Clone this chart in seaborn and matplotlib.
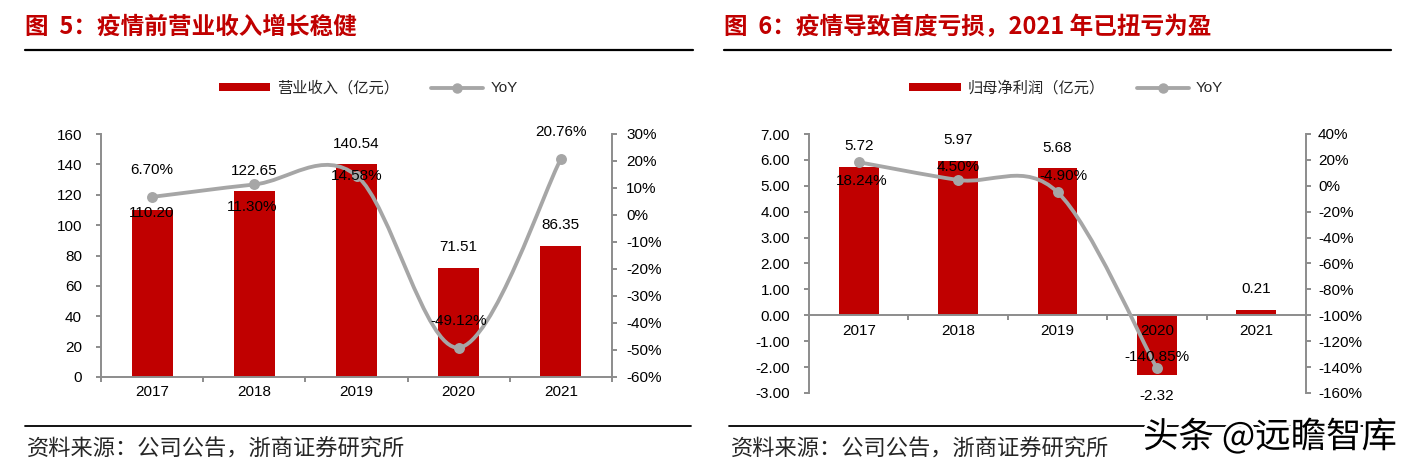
import numpy as np
import matplotlib
matplotlib.use("Agg")
import matplotlib.pyplot as plt
import seaborn as sns
from matplotlib.path import Path
from matplotlib.patches import PathPatch, Patch
from matplotlib.lines import Line2D
from matplotlib.ticker import MultipleLocator, FixedLocator, FuncFormatter
import matplotlib.patheffects as pe

# ---------------- data ----------------
years = ["2017", "2018", "2019", "2020", "2021"]
revenue = [110.20, 122.65, 140.54, 71.51, 86.35]
revenue_yoy = [6.70, 11.30, 14.58, -49.12, 20.76]
profit = [5.72, 5.97, 5.68, -2.32, 0.21]
profit_yoy = [18.24, 4.50, -4.90, -140.85, np.nan]

title_left = "图  5：疫情前营业收入增长稳健"
title_right = "图  6：疫情导致首度亏损，2021 年已扭亏为盈"
legend_left = "营业收入（亿元）"
legend_right = "归母净利润（亿元）"
legend_yoy = "YoY"
source_text = "资料来源：公司公告，浙商证券研究所"
watermark = "头条 @远瞻智库"

# ---------------- style ----------------
sns.set_style("white")
plt.rcParams["font.family"] = ["Liberation Sans", "Noto Sans CJK SC", "DejaVu Sans"]
plt.rcParams["axes.unicode_minus"] = False

RED = "#C00000"
GRAY = "#A6A6A6"
AXC = "#8C8C8C"
CJK = ["Noto Sans CJK SC", "DejaVu Sans"]
W, H = 1414, 472
PX = 72 / 100.0  # points per pixel

fig = plt.figure(figsize=(W / 100, H / 100), dpi=100)


def fx(px):
    return px / W


def fy(py):
    return 1 - py / H


def smooth_path(xs, ys):
    P = np.column_stack([xs, ys]).astype(float)
    n = len(P)
    T = np.zeros_like(P)
    for i in range(n):
        a = P[max(i - 1, 0)]
        b = P[min(i + 1, n - 1)]
        T[i] = (b - a) / 2.0
    verts = [P[0]]
    codes = [Path.MOVETO]
    for i in range(n - 1):
        verts += [P[i] + T[i] / 3.0, P[i + 1] - T[i + 1] / 3.0, P[i + 1]]
        codes += [Path.CURVE4] * 3
    return Path(verts, codes)


def make_panel(box, vals, yoy, ylim, ystep, yfmt, y2lim, y2step, zero_spine,
               lpad, rpad):
    l, t, r, b = box
    ax = fig.add_axes([fx(l), fy(b), (r - l) / W, (b - t) / H])
    pos = np.arange(len(years))
    sns.barplot(x=pos, y=vals, native_scale=True, color=RED, saturation=1,
                width=0.4, linewidth=0, ax=ax)
    ax2 = ax.twinx()
    yoy = np.asarray(yoy, dtype=float)
    ok = ~np.isnan(yoy)
    ax2.add_patch(PathPatch(smooth_path(pos[ok], yoy[ok]), fill=False,
                            edgecolor=GRAY, lw=2.75, capstyle="round",
                            joinstyle="round", zorder=2))
    sns.scatterplot(x=pos[ok], y=yoy[ok], color=GRAY, s=62, linewidth=0,
                    ax=ax2, legend=False, zorder=3)

    ax.set_xlim(-0.5, len(years) - 0.5)
    ax2.set_xlim(-0.5, len(years) - 0.5)
    ax.set_ylim(*ylim)
    ax2.set_ylim(*y2lim)
    ax.set_xlabel("")
    ax.set_ylabel("")
    ax2.set_xlabel("")
    ax2.set_ylabel("")
    ax.set_axisbelow(False)

    for s in ["top", "right"]:
        ax.spines[s].set_visible(False)
    for s in ["top", "left", "bottom"]:
        ax2.spines[s].set_visible(False)
    for s in ["left", "bottom"]:
        ax.spines[s].set_color(AXC)
        ax.spines[s].set_linewidth(1.4)
    ax2.spines["right"].set_color(AXC)
    ax2.spines["right"].set_linewidth(1.4)
    if zero_spine:
        ax.spines["bottom"].set_position(("data", 0))

    ax.yaxis.set_major_locator(MultipleLocator(ystep))
    ax.yaxis.set_major_formatter(FuncFormatter(lambda v, _: yfmt.format(v)))
    ax2.yaxis.set_major_locator(MultipleLocator(y2step))
    ax2.yaxis.set_major_formatter(FuncFormatter(lambda v, _: f"{v:.0f}%"))
    ax.tick_params(axis="y", which="major", left=True, direction="out",
                   length=3.6, width=1.4, color=AXC, pad=lpad, labelsize=11,
                   labelcolor="black")
    ax2.tick_params(axis="y", which="major", right=True, left=False,
                    direction="out", length=3.6, width=1.4, color=AXC,
                    pad=rpad, labelsize=11, labelcolor="black")
    ax.set_xticks(pos)
    ax.set_xticklabels(years)
    ax.xaxis.set_minor_locator(FixedLocator(np.arange(-0.5, len(years), 1.0)))
    ax.tick_params(axis="x", which="major", bottom=True, length=0, pad=6,
                   labelsize=11, labelcolor="black")
    ax.tick_params(axis="x", which="minor", bottom=True, direction="out",
                   length=3.6, width=1.4, color=AXC)
    return ax, ax2


def label(host, data_ax, x, y, txt, dx, dy):
    host.annotate(txt, xy=(x, y), xycoords=data_ax.transData,
                  xytext=(dx * PX, dy * PX), textcoords="offset points",
                  ha="center", va="center", fontsize=11, color="black",
                  zorder=6, annotation_clip=False)


# ---------------- left panel ----------------
axL, axL2 = make_panel((101, 134, 612, 377), revenue, revenue_yoy, (0, 160), 20,
                       "{:.0f}", (-60, 30), 10, False, 10, 6.5)
bar_off_L = [-3, 20, 20, 21, 21]
yoy_off_L = [(0, 27), (-2, -23), (0, 0), (0, 27), (0, 27)]
for i, v in enumerate(revenue):
    label(axL2, axL, i, v, f"{v:.2f}", 0, bar_off_L[i])
for i, v in enumerate(revenue_yoy):
    label(axL2, axL2, i, v, f"{v:.2f}%", *yoy_off_L[i])

# ---------------- right panel ----------------
axR, axR2 = make_panel((809, 134, 1306, 393), profit, profit_yoy, (-3, 7), 1,
                       "{:.2f}", (-160, 40), 20, True, 10, 5)
bar_off_R = [21, 21, 20, -21, 21]
yoy_off_R = [(3, -19), (0, 13), (6, 16), (0, 11)]
for i, v in enumerate(profit):
    label(axR2, axR, i, v, f"{v:.2f}", 0, bar_off_R[i])
for i, v in enumerate(profit_yoy):
    if not np.isnan(v):
        label(axR2, axR2, i, v, f"{v:.2f}%", *yoy_off_R[i])

# ---------------- legends ----------------
def add_legend(cx, txt):
    handles = [Patch(facecolor=RED, edgecolor="none"),
               Line2D([], [], color=GRAY, lw=2.75, marker="o", ms=6.5)]
    leg = fig.legend(handles, [txt, legend_yoy], loc="center",
                     bbox_to_anchor=(fx(cx), fy(88)), ncol=2, frameon=False,
                     fontsize=11, handlelength=3.4, handleheight=0.5,
                     handletextpad=0.45, columnspacing=2.1, borderpad=0,
                     borderaxespad=0)
    leg.get_texts()[0].set_fontfamily(CJK)


add_legend(368, legend_left)
add_legend(1066, legend_right)

# ---------------- titles, rules, footers ----------------
fig.text(fx(25), fy(27), title_left, color=RED, fontsize=17, fontweight="bold",
         family=CJK, ha="left", va="center")
fig.text(fx(724), fy(27), title_right, color=RED, fontsize=17,
         fontweight="bold", family=CJK, ha="left", va="center")
for x0, x1 in [(25, 693), (724, 1391)]:
    fig.add_artist(Line2D([fx(x0), fx(x1)], [fy(50), fy(50)], color="black",
                          lw=1.6, transform=fig.transFigure))
for x0, x1 in [(25, 691), (729, 1391)]:
    fig.add_artist(Line2D([fx(x0), fx(x1)], [fy(426), fy(426)], color="black",
                          lw=1.3, transform=fig.transFigure))
fig.text(fx(27), fy(449), source_text, fontsize=16, family=CJK,
         ha="left", va="center")
fig.text(fx(731), fy(449), source_text, fontsize=16, family=CJK,
         ha="left", va="center")
fig.text(fx(1143), fy(437), watermark, fontsize=25.5, family=CJK, color="black",
         ha="left", va="center", zorder=5,
         path_effects=[pe.withStroke(linewidth=4, foreground="white")])

fig.savefig("out.png", dpi=100)
